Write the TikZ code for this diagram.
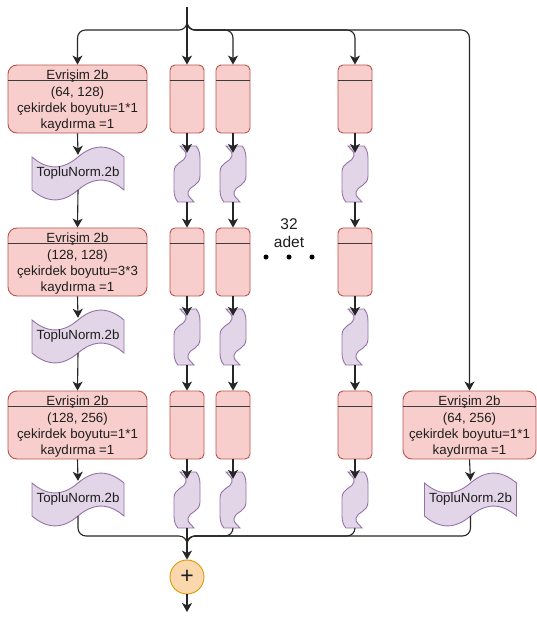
\documentclass[tikz,border=0pt]{standalone}
\usepackage{fontspec}
\setmainfont{Liberation Sans}
\usetikzlibrary{arrows.meta,calc}

\definecolor{convfill}{HTML}{F8CECC}
\definecolor{convline}{HTML}{B85450}
\definecolor{normfill}{HTML}{E1D5E7}
\definecolor{normline}{HTML}{9673A6}
\definecolor{sumfill}{HTML}{FAD7AC}
\definecolor{sumline}{HTML}{D79B00}
\definecolor{linec}{HTML}{262626}
\definecolor{sepc}{HTML}{3C3C3C}
\definecolor{txtc}{HTML}{1E1E1E}

\tikzset{
  edge/.style={draw=linec, line width=1.1pt, -{Stealth[length=9pt,width=10pt,inset=2.5pt]}},
  edgeplain/.style={draw=linec, line width=1.1pt},
  convwide/.style={draw=convline, fill=convfill, line width=0.9pt, rounded corners=9pt,
    minimum height=68pt, inner sep=0pt},
  convthin/.style={draw=convline, fill=convfill, line width=0.9pt, rounded corners=5pt,
    minimum width=34pt, minimum height=68pt, inner sep=0pt},
  sep/.style={draw=sepc, line width=1pt},
  normshape/.style={draw=normline, fill=normfill, line width=0.9pt},
  normbox/.style={inner sep=0pt, minimum height=55pt, text=txtc,
    font=\fontsize{13.3}{16}\selectfont},
  txt/.style={anchor=base, inner sep=0pt, text=txtc, font=\fontsize{13.3}{16}\selectfont},
  sumnode/.style={circle, draw=sumline, fill=sumfill, line width=0.9pt, minimum size=34pt,
    inner sep=0pt, text=txtc, font=\fontsize{23}{23}\selectfont},
  dot/.style={circle, fill=black, minimum size=5pt, inner sep=0pt},
}

% wide convolution block: name, centre x, top y, width, three body lines
\newcommand\convbox[7]{%
  \node[convwide, minimum width=#4pt] (#1) at (#2,#3+34) {};
  \draw[sep] ([yshift=-16pt]#1.north west) -- ([yshift=-16pt]#1.north east);
  \node[txt] (#1-t) at (#2,#3+14.5) {Evrişim 2b};
  \node[txt] (#1-a) at (#2,#3+31.5) {#5};
  \node[txt] (#1-b) at (#2,#3+47.3) {#6};
  \node[txt] (#1-c) at (#2,#3+63) {#7};
}
% narrow convolution block: name, centre x, top y
\newcommand\thinconv[3]{%
  \node[convthin] (#1) at (#2,#3+34) {};
  \draw[sep] ([yshift=-16pt]#1.north west) -- ([yshift=-16pt]#1.north east);
}
% wide batch-norm tape: name, centre x, top y, width
\newcommand\widenorm[4]{%
  \begin{scope}[shift={(#2-#4/2,#3)}, xscale=#4, yscale=55]
    \path[normshape] (0,.2) .. controls (1/6,.44) and (1/3,.44) .. (.5,.2)
      .. controls (2/3,-.04) and (5/6,-.04) .. (1,.2) -- (1,.8)
      .. controls (5/6,.56) and (2/3,.56) .. (.5,.8)
      .. controls (1/3,1.04) and (1/6,1.04) .. (0,.8) -- cycle;
  \end{scope}
  \node[normbox, minimum width=#4pt] (#1) at (#2,#3+27.5) {TopluNorm.2b};
}
% narrow (upright) batch-norm tape, 26 x 56: name, centre x, top y
\newcommand\thinnorm[3]{%
  \begin{scope}[shift={(#2-13,#3)}]
    \path[normshape] (6,0) .. controls (8,3) and (13,5) .. (12,10)
      .. controls (11,16) and (0,16) .. (0,26) -- (0,44)
      .. controls (0,50) and (2,54) .. (4,56) -- (20,56)
      .. controls (18,53) and (13,51) .. (14,46)
      .. controls (15,40) and (26,40) .. (26,30) -- (26,12)
      .. controls (26,6) and (24,2) .. (22,0) -- cycle;
  \end{scope}
  \node[inner sep=0pt, minimum width=26pt, minimum height=56pt] (#1) at (#2,#3+28) {};
}

\begin{document}
\begin{tikzpicture}[x=1pt, y=-1pt]
  \useasboundingbox (0,0) rectangle (537,621);

  % left branch
  \convbox{L1}{77.5}{65}{139}{(64, 128)}{çekirdek boyutu=1*1}{kaydırma =1}
  \widenorm{nL1}{78}{146}{92}
  \convbox{L2}{77.5}{228}{139}{(128, 128)}{çekirdek boyutu=3*3}{kaydırma =1}
  \widenorm{nL2}{78}{309}{92}
  \convbox{L3}{77.5}{391}{139}{(128, 256)}{çekirdek boyutu=1*1}{kaydırma =1}
  \widenorm{nL3}{78}{472}{92}

  % grouped narrow branches
  \foreach \c/\x in {A/187, B/233, D/355} {
    \thinconv{\c1}{\x}{65}
    \thinnorm{n\c1}{\x}{146}
    \thinconv{\c2}{\x}{228}
    \thinnorm{n\c2}{\x}{309}
    \thinconv{\c3}{\x}{391}
    \thinnorm{n\c3}{\x}{472}
  }

  % shortcut branch
  \convbox{R}{469.5}{391}{133}{(64, 256)}{çekirdek boyutu=1*1}{kaydırma =1}
  \widenorm{nR}{470.5}{472}{92}

  % group count
  \node[align=center, inner sep=0pt, text=txtc, font=\fontsize{15.5}{18}\selectfont]
    (count) at (289,233) {32\\adet};
  \node[dot] (d1) at (266,257) {};
  \node[dot] (d2) at (289,257) {};
  \node[dot] (d3) at (312,257) {};

  % sum
  \node[sumnode] (sum) at (187,577) {+};

  % input fan-out
  \coordinate (in) at (187,7);
  \coordinate (split) at (187,30);
  \draw[edge, rounded corners=8pt] (in) -- (split) -| (L1.north);
  \draw[edge] (in) -- (A1.north);
  \draw[edge, rounded corners=8pt] (in) -- (split) -| (B1.north);
  \draw[edge, rounded corners=8pt] (in) -- (split) -| (D1.north);
  \draw[edge, rounded corners=8pt] (in) -- (split) -| (R.north);

  % left branch chain
  \draw[edge] (L1.south) -- ([yshift=-9pt]nL1.north);
  \draw[edge] ([yshift=11pt]nL1.south) -- (L2.north);
  \draw[edge] (L2.south) -- ([yshift=-9pt]nL2.north);
  \draw[edge] ([yshift=11pt]nL2.south) -- (L3.north);
  \draw[edge] (L3.south) -- ([yshift=-9pt]nL3.north);

  % narrow branch chains
  \foreach \c in {A, B, D} {
    \draw[edge] (\c1.south) -- ([yshift=-7pt]n\c1.north);
    \draw[edge] (n\c1.south) -- (\c2.north);
    \draw[edge] (\c2.south) -- ([yshift=-7pt]n\c2.north);
    \draw[edge] (n\c2.south) -- (\c3.north);
    \draw[edge] (\c3.south) -- ([yshift=-7pt]n\c3.north);
  }

  % shortcut chain
  \draw[edge] (R.south) -- ([yshift=-9pt]nR.north);

  % merge into the sum
  \coordinate (mrg) at (187,536);
  \coordinate (mrgb) at (187,552);
  \draw[edgeplain, rounded corners=8pt] ([yshift=11pt]nL3.south) |- (mrg) -- (mrgb);
  \draw[edgeplain, rounded corners=8pt] (nB3.south) |- (mrg) -- (mrgb);
  \draw[edgeplain, rounded corners=8pt] (nD3.south) |- (mrg) -- (mrgb);
  \draw[edgeplain, rounded corners=8pt] ([yshift=11pt]nR.south) |- (mrg) -- (mrgb);
  \draw[edge] (nA3.south) -- (sum.north);

  % output
  \coordinate (out) at (187,612);
  \draw[edge] (sum.south) -- (out);
\end{tikzpicture}
\end{document}
